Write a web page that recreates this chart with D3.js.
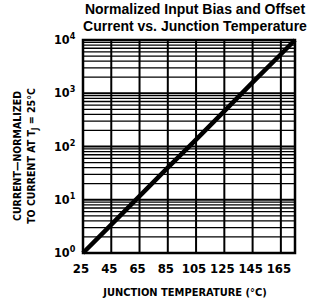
<!DOCTYPE html>
<html>
<head>
<meta charset="utf-8">
<script src="https://cdn.jsdelivr.net/npm/d3@7"></script>
<style>
  body { margin: 0; background: #fff; }
  text { font-family: "Liberation Sans Narrow", "Arial Narrow", "DejaVu Sans Condensed", sans-serif; font-weight: bold; fill: #000; }
  .title { font-family: "Liberation Sans", Arial, sans-serif; }
</style>
</head>
<body>
<div id="container"></div>
<script>
// data
const temps = [25, 45, 65, 85, 105, 125, 145, 165, 175];
const current = [1, 3.4, 11.7, 40, 135, 460, 1600, 5400, 10000];
const xTicks = [25, 45, 65, 85, 105, 125, 145, 165];
const yDecades = [0, 1, 2, 3, 4];
const titleLines = ['Normalized Input Bias and Offset', 'Current vs. Junction Temperature'];

const width = 322;
const height = 307;
const plotL = 83, plotR = 295, plotT = 40, plotB = 253;

const svg = d3.select('#container')
              .append('svg')
              .attr('width', width)
              .attr('height', height);

const x = d3.scaleLinear().domain([25, 175]).range([plotL, plotR]);
const y = d3.scaleLog().domain([1, 1e4]).range([plotB, plotT]);

// horizontal grid: minor lines 2..9 inside each decade
const minor = [];
yDecades.slice(0, -1).forEach(d => {
    for (let k = 2; k <= 9; k++) minor.push(k * Math.pow(10, d));
});
svg.append('g')
   .selectAll('line')
   .data(minor)
   .enter()
   .append('line')
   .attr('x1', plotL).attr('x2', plotR)
   .attr('y1', d => y(d)).attr('y2', d => y(d))
   .attr('stroke', '#000')
   .attr('stroke-width', 1.3);

svg.append('g')
   .selectAll('line')
   .data(yDecades.slice(1, -1))
   .enter()
   .append('line')
   .attr('x1', plotL).attr('x2', plotR)
   .attr('y1', d => y(Math.pow(10, d))).attr('y2', d => y(Math.pow(10, d)))
   .attr('stroke', '#000')
   .attr('stroke-width', 2);

// vertical grid
svg.append('g')
   .selectAll('line')
   .data(xTicks.slice(1))
   .enter()
   .append('line')
   .attr('x1', d => x(d)).attr('x2', d => x(d))
   .attr('y1', plotT).attr('y2', plotB)
   .attr('stroke', '#000')
   .attr('stroke-width', 2);

// frame
svg.append('rect')
   .attr('x', plotL).attr('y', plotT)
   .attr('width', plotR - plotL).attr('height', plotB - plotT)
   .attr('fill', 'none')
   .attr('stroke', '#000')
   .attr('stroke-width', 2.5);

// curve
const line = d3.line().x((d, i) => x(temps[i])).y(d => y(d));
svg.append('path')
   .datum(current)
   .attr('d', line)
   .attr('fill', 'none')
   .attr('stroke', '#000')
   .attr('stroke-width', 4.5);

// x tick labels
svg.append('g')
   .selectAll('text')
   .data(xTicks)
   .enter()
   .append('text')
   .attr('x', d => x(d) - 2)
   .attr('y', 273)
   .attr('text-anchor', 'middle')
   .style('font-size', '13px')
   .text(d => d);

// y tick labels 10^n
const yl = svg.append('g')
   .selectAll('text')
   .data(yDecades)
   .enter()
   .append('text')
   .attr('x', 54)
   .attr('y', d => y(Math.pow(10, d)) + 4)
   .style('font-size', '12.5px');
yl.append('tspan').text('10');
yl.append('tspan').attr('dy', -5).style('font-size', '9px').text(d => d);

// axis titles
svg.append('text')
   .attr('x', 185)
   .attr('y', 296)
   .attr('text-anchor', 'middle')
   .style('font-size', '11px')
   .text('JUNCTION TEMPERATURE (°C)');

const yt = svg.append('g').attr('transform', 'translate(0,156) rotate(-90)');
yt.append('text')
  .attr('x', 0).attr('y', 21)
  .attr('text-anchor', 'middle')
  .style('font-size', '10.5px')
  .text('CURRENT—NORMALIZED');
const t2 = yt.append('text')
  .attr('x', 0).attr('y', 35)
  .attr('text-anchor', 'middle')
  .style('font-size', '10.5px');
t2.append('tspan').text('TO CURRENT AT T');
t2.append('tspan').attr('dy', 3).style('font-size', '8px').text('J');
t2.append('tspan').attr('dy', -3).text(' = 25°C');

// title
svg.append('g')
   .selectAll('text')
   .data(titleLines)
   .enter()
   .append('text')
   .attr('class', 'title')
   .attr('x', 195)
   .attr('y', (d, i) => 14 + i * 17)
   .attr('text-anchor', 'middle')
   .style('font-size', '14px')
   .text(d => d);
</script>
</body>
</html>
